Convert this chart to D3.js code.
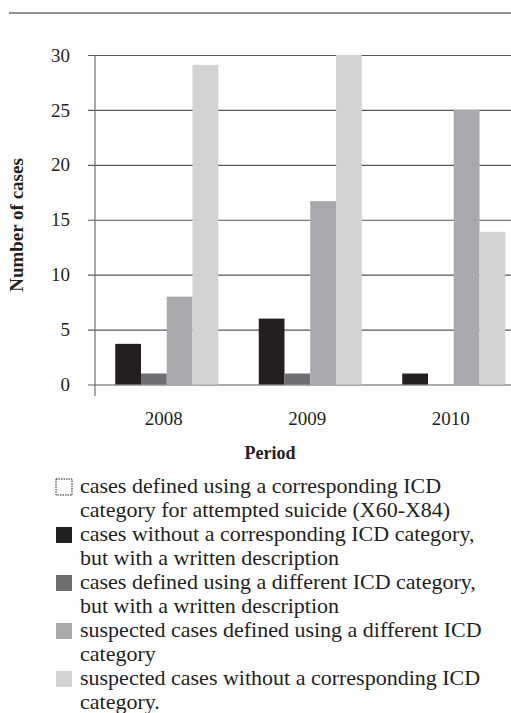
<!DOCTYPE html>
<html>
<head>
<meta charset="utf-8">
<script src="https://cdn.jsdelivr.net/npm/d3@7"></script>
<style>
  body { margin: 0; background: #fff; }
  svg { display: block; font-family: "Liberation Serif", "DejaVu Serif", serif; }
</style>
</head>
<body>
<script>
// data
var years = ['2008', '2009', '2010'];
var legendLines = [
  ['cases defined using a corresponding ICD', 'category for attempted suicide (X60-X84)'],
  ['cases without a corresponding ICD category,', 'but with a written description'],
  ['cases defined using a different ICD category,', 'but with a written description'],
  ['suspected cases defined using a different ICD', 'category'],
  ['suspected cases without a corresponding ICD', 'category.']
];
var seriesColors = ['none', '#231f20', '#6d6e71', '#a7a9ac', '#d1d3d4'];
// the first series has no bars, only the last four are drawn
var barSeries = [1, 2, 3, 4];
var withoutIcd = [3.7, 6, 1];
var differentIcd = [1, 1, 0];
var suspectedDifferent = [8, 16.7, 25];
var suspectedWithout = [29.1, 30, 13.9];
var yTicks = [0, 5, 10, 15, 20, 25, 30];

var seriesValues = { 1: withoutIcd, 2: differentIcd, 3: suspectedDifferent, 4: suspectedWithout };

var width = 511, height = 713;
var svg = d3.select('body').append('svg')
  .attr('width', width)
  .attr('height', height);

// top rule
svg.append('line')
  .attr('x1', 9).attr('x2', width)
  .attr('y1', 13).attr('y2', 13)
  .attr('stroke', '#6d6e71').attr('stroke-width', 1.5);

var plotLeft = 95;
var y = d3.scaleLinear().domain([0, 30]).range([384.5, 55]);

var x0 = d3.scaleBand().domain(years)
  .range([plotLeft, plotLeft + 430.5])
  .paddingInner(0.282).paddingOuter(0.141);
var x1 = d3.scaleBand().domain(barSeries).range([0, x0.bandwidth()]);

// gridlines + y tick labels
var yAxis = d3.axisLeft(y).tickValues(yTicks).tickSize(-(width - 88)).tickPadding(18);
var gy = svg.append('g').attr('transform', 'translate(88,0)').call(yAxis);
gy.select('.domain').remove();
gy.selectAll('.tick line').attr('stroke', '#58595b').attr('stroke-width', 1.2);
gy.selectAll('.tick text')
  .attr('font-family', '"Liberation Serif", serif')
  .attr('font-size', 19).attr('fill', '#231f20');

// vertical axis line
svg.append('line')
  .attr('x1', plotLeft).attr('x2', plotLeft)
  .attr('y1', y(30)).attr('y2', 396)
  .attr('stroke', '#6d6e71').attr('stroke-width', 1.2);

// bars
var groups = svg.selectAll('g.year')
  .data(years)
  .enter()
  .append('g')
  .attr('class', 'year')
  .attr('transform', function(d) { return 'translate(' + x0(d) + ',0)'; });

groups.selectAll('rect')
  .data(function(d, i) {
    return barSeries.map(function(s) { return { s: s, v: seriesValues[s][i] }; });
  })
  .enter()
  .append('rect')
  .attr('x', function(d) { return x1(d.s); })
  .attr('y', function(d) { return y(d.v); })
  .attr('width', x1.bandwidth())
  .attr('height', function(d) { return y(0) - y(d.v); })
  .attr('fill', function(d) { return seriesColors[d.s]; });

// category labels
svg.selectAll('text.year')
  .data(years)
  .enter()
  .append('text')
  .attr('class', 'year')
  .attr('x', function(d) { return x0(d) + x0.bandwidth() / 2 - 3; })
  .attr('y', 425)
  .attr('text-anchor', 'middle')
  .attr('font-size', 19)
  .attr('fill', '#231f20')
  .text(function(d) { return d; });

// axis titles
svg.append('text')
  .attr('x', 270).attr('y', 459)
  .attr('text-anchor', 'middle')
  .attr('font-size', 18).attr('font-weight', 'bold')
  .attr('fill', '#231f20')
  .text('Period');

svg.append('text')
  .attr('transform', 'translate(23,225) rotate(-90)')
  .attr('text-anchor', 'middle')
  .attr('font-size', 19).attr('font-weight', 'bold')
  .attr('fill', '#231f20')
  .text('Number of cases');

// legend
var legend = svg.selectAll('g.legend')
  .data(legendLines)
  .enter()
  .append('g')
  .attr('class', 'legend')
  .attr('transform', function(d, i) { return 'translate(56,' + (479 + i * 48) + ')'; });

legend.append('rect')
  .attr('width', 16).attr('height', 16)
  .attr('fill', function(d, i) { return i === 0 ? '#fff' : seriesColors[i]; })
  .attr('stroke', function(d, i) { return i === 0 ? '#231f20' : 'none'; })
  .attr('stroke-dasharray', function(d, i) { return i === 0 ? '1.5,1' : null; });

legend.append('text')
  .attr('font-size', 22)
  .attr('fill', '#231f20')
  .selectAll('tspan')
  .data(function(d) { return d; })
  .enter()
  .append('tspan')
  .attr('x', 24)
  .attr('y', function(d, i) { return 14 + i * 24; })
  .text(function(d) { return d; });
</script>
</body>
</html>
